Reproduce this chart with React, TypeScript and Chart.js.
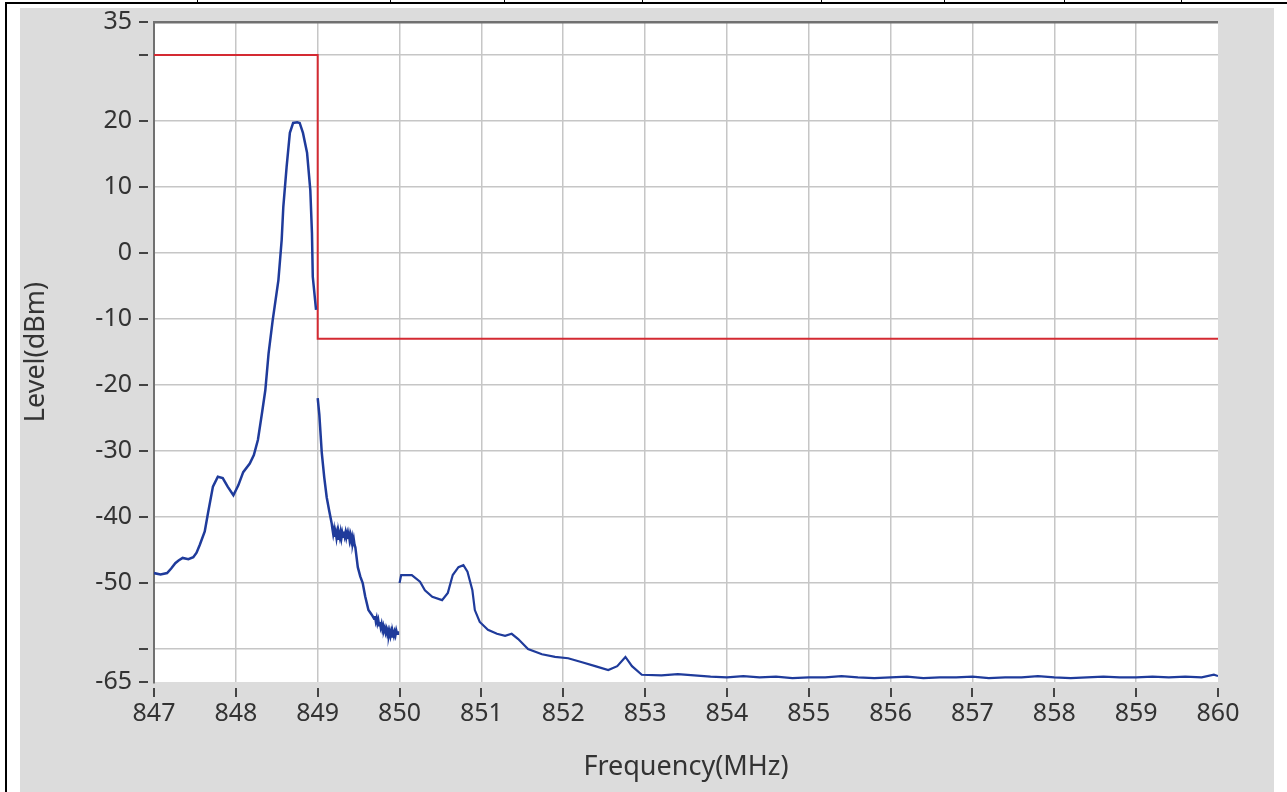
import React, { useEffect, useRef } from "react";
import { Chart, registerables } from "chart.js";

Chart.register(...registerables);

// Axis ticks
const xTickValues = [847, 848, 849, 850, 851, 852, 853, 854, 855, 856, 857, 858, 859, 860];
const yTickValues = [35, 30, 20, 10, 0, -10, -20, -30, -40, -50, -60, -65];
const yTickLabels = ["35", "", "20", "10", "0", "-10", "-20", "-30", "-40", "-50", "", "-65"];

// Emission mask (red)
const maskFreq = [847, 849, 849, 860];
const maskLevel = [30, 30, -13, -13];

// Measured spectrum, segment 1 (847 - 849 MHz)
const seg1Freq = [
  847.0, 847.08, 847.16, 847.21, 847.26, 847.3, 847.35, 847.42, 847.48, 847.52, 847.56, 847.62, 847.66,
  847.72, 847.78, 847.84, 847.9, 847.97, 848.03, 848.09, 848.17, 848.22, 848.27, 848.32, 848.36,
  848.4, 848.45, 848.52, 848.56, 848.58, 848.62, 848.66, 848.7, 848.75, 848.78, 848.82, 848.87,
  848.91, 848.93, 848.94, 848.98,
];
const seg1Level = [
  -48.5, -48.7, -48.5, -47.8, -47.0, -46.6, -46.2, -46.4, -46.1, -45.4, -44.2, -42.2, -39.4,
  -35.4, -33.9, -34.1, -35.4, -36.7, -35.2, -33.2, -31.9, -30.6, -28.3, -24.2, -20.8,
  -15.2, -10.2, -4.1, 2.0, 7.0, 13.0, 18.2, 19.7, 19.8, 19.7, 18.2, 15.2,
  9.5, 3.0, -3.6, -8.6,
];

// Segment 2 (849 - 850 MHz)
const seg2Freq = [
  849.0, 849.02, 849.05, 849.08, 849.11, 849.14, 849.17, 849.18, 849.19, 849.2, 849.21, 849.22,
  849.23, 849.24, 849.25, 849.26, 849.27, 849.28, 849.29, 849.3, 849.31, 849.32, 849.33, 849.34,
  849.35, 849.36, 849.37, 849.38, 849.39, 849.4, 849.41, 849.42, 849.43, 849.44, 849.45, 849.46,
  849.49, 849.52, 849.55, 849.58, 849.62, 849.66, 849.69, 849.7, 849.71, 849.72, 849.73, 849.74,
  849.75, 849.76, 849.77, 849.78, 849.79, 849.8, 849.81, 849.82, 849.83, 849.84, 849.85, 849.86,
  849.87, 849.88, 849.89, 849.9, 849.91, 849.92, 849.93, 849.94, 849.95, 849.96, 849.97, 849.98,
];
const seg2Level = [
  -22.0, -24.5, -30.3, -34.0, -37.0, -39.0, -40.9, -41.8, -42.6, -41.9, -43.0, -42.3,
  -43.2, -42.4, -43.3, -42.5, -43.1, -42.3, -43.2, -42.4, -43.0, -42.2, -42.9, -42.3,
  -43.1, -42.5, -43.3, -42.6, -43.5, -42.8, -43.6, -43.0, -43.9, -43.3, -44.2, -44.6,
  -47.6, -49.0, -50.0, -52.0, -54.1, -54.8, -55.4, -55.0, -55.8, -55.3, -56.1, -55.6,
  -56.4, -55.9, -56.7, -56.2, -57.0, -56.5, -57.2, -56.8, -57.5, -57.0, -57.7, -57.2,
  -57.9, -57.3, -58.0, -57.4, -58.1, -57.5, -58.0, -57.4, -57.9, -57.2, -57.7, -57.3,
];

// Segment 3 (850 - 860 MHz)
const seg3Freq = [
  850.0, 850.02, 850.15, 850.25, 850.31, 850.4, 850.52, 850.59, 850.65, 850.72, 850.78, 850.83,
  850.89, 850.92, 850.98, 851.08, 851.19, 851.29, 851.37, 851.45, 851.57, 851.74, 851.9, 852.06,
  852.23, 852.39, 852.55, 852.66, 852.76, 852.84, 852.96, 853.2, 853.4, 853.6, 853.8, 854.0,
  854.2, 854.4, 854.6, 854.8, 855.0, 855.2, 855.4, 855.6, 855.8, 856.0, 856.2, 856.4, 856.6,
  856.8, 857.0, 857.2, 857.4, 857.6, 857.8, 858.0, 858.2, 858.4, 858.6, 858.8, 859.0, 859.2,
  859.4, 859.6, 859.8, 859.95, 860.0,
];
const seg3Level = [
  -50.0, -48.8, -48.8, -49.8, -51.1, -52.1, -52.6, -51.5, -48.8, -47.6, -47.3, -48.3,
  -51.1, -54.1, -55.9, -57.1, -57.7, -58.0, -57.7, -58.5, -60.0, -60.8, -61.2, -61.4,
  -62.0, -62.6, -63.2, -62.6, -61.2, -62.6, -63.9, -64.0, -63.8, -64.0, -64.2, -64.3,
  -64.1, -64.3, -64.2, -64.4, -64.3, -64.3, -64.1, -64.3, -64.4, -64.3, -64.2, -64.4, -64.3,
  -64.3, -64.2, -64.4, -64.3, -64.3, -64.1, -64.3, -64.4, -64.3, -64.2, -64.3, -64.3, -64.2,
  -64.3, -64.2, -64.3, -63.9, -64.1,
];

const topDividers = [197, 390, 504, 642, 821, 944, 1064, 1181];

const toPoints = (xs: number[], ys: number[]) => xs.map((x, i) => ({ x, y: ys[i] }));

const BLUE = "#1f3b9b";
const RED = "#d42a32";
const TEXT = "#333333";
const FONT = "'Noto Sans', 'Open Sans', sans-serif";

export default function App() {
  const ref = useRef<HTMLCanvasElement | null>(null);

  useEffect(() => {
    if (!ref.current) return;

    const decor = {
      id: "decor",
      beforeDraw(chart: any) {
        const { ctx, chartArea: a, width, height } = chart;
        ctx.save();
        ctx.fillStyle = "#dcdcdc";
        ctx.fillRect(0, 0, width, height);
        ctx.fillStyle = "#ffffff";
        ctx.fillRect(a.left, a.top, a.right - a.left, a.bottom - a.top);
        ctx.restore();
      },
      afterDraw(chart: any) {
        const { ctx, chartArea: a, scales } = chart;
        ctx.save();
        ctx.strokeStyle = "#444444";
        ctx.lineWidth = 2;
        ctx.beginPath();
        yTickValues.forEach((v) => {
          const y = Math.round(scales.y.getPixelForValue(v));
          ctx.moveTo(a.left - 15, y);
          ctx.lineTo(a.left - 6, y);
        });
        xTickValues.forEach((v) => {
          const x = Math.round(scales.x.getPixelForValue(v));
          ctx.moveTo(x, a.bottom + 6);
          ctx.lineTo(x, a.bottom + 15);
        });
        ctx.stroke();
        ctx.restore();
      },
    };

    const lineDs = (label: string, xs: number[], ys: number[], color: string, w: number) => ({
      label,
      data: toPoints(xs, ys),
      borderColor: color,
      backgroundColor: color,
      borderWidth: w,
      pointRadius: 0,
      tension: 0,
      fill: false,
    });

    const chart = new Chart(ref.current, {
      type: "line",
      data: {
        datasets: [
          lineDs("Spectrum 1", seg1Freq, seg1Level, BLUE, 2.5),
          lineDs("Spectrum 2", seg2Freq, seg2Level, BLUE, 2.5),
          lineDs("Spectrum 3", seg3Freq, seg3Level, BLUE, 2.2),
          lineDs("Mask", maskFreq, maskLevel, RED, 2),
        ],
      },
      options: {
        animation: false,
        responsive: false,
        devicePixelRatio: 1,
        layout: { padding: { left: 0, top: 14, right: 56, bottom: 0 } },
        plugins: { legend: { display: false }, tooltip: { enabled: false } },
        scales: {
          x: {
            type: "linear",
            min: 847,
            max: 860,
            afterBuildTicks: (s: any) => {
              s.ticks = xTickValues.map((v) => ({ value: v }));
            },
            afterFit: (s: any) => {
              s.height = 110;
              s.paddingLeft = 0;
              s.paddingRight = 0;
              s.paddingTop = 0;
              s.paddingBottom = 0;
            },
            ticks: {
              color: TEXT,
              font: { family: FONT, size: 25 },
              padding: 17,
              maxRotation: 0,
              autoSkip: false,
              callback: (v: any) => String(v),
            },
            grid: {
              drawTicks: false,
              color: (c: any) =>
                c.tick && (c.tick.value === 847 || c.tick.value === 860) ? "rgba(0,0,0,0)" : "#c6c6c6",
              lineWidth: 1.5,
            },
            border: { display: false },
            title: {
              display: true,
              text: "Frequency(MHz)",
              color: TEXT,
              font: { family: FONT, size: 27 },
              padding: { top: 0, bottom: 8 },
            },
          },
          y: {
            type: "linear",
            min: -65,
            max: 35,
            afterBuildTicks: (s: any) => {
              s.ticks = yTickValues.map((v) => ({ value: v }));
            },
            afterFit: (s: any) => {
              s.width = 134;
              s.paddingLeft = 0;
              s.paddingRight = 0;
              s.paddingTop = 0;
              s.paddingBottom = 0;
            },
            ticks: {
              color: TEXT,
              font: { family: FONT, size: 25 },
              padding: 22,
              autoSkip: false,
              callback: (v: any) => {
                const i = yTickValues.indexOf(Number(v));
                return i >= 0 ? yTickLabels[i] : "";
              },
            },
            grid: {
              drawTicks: false,
              color: (c: any) => {
                const v = c.tick ? c.tick.value : null;
                if (v === 35) return "#707070";
                if (v === -65) return "rgba(0,0,0,0)";
                return "#c6c6c6";
              },
              lineWidth: (c: any) => (c.tick && c.tick.value === 35 ? 2.5 : 1.5),
            },
            border: { display: true, color: "#707070", width: 2 },
            title: {
              display: true,
              text: "Level(dBm)",
              color: TEXT,
              font: { family: FONT, size: 27 },
              padding: { top: 0, bottom: 0 },
            },
          },
        },
      },
      plugins: [decor],
    } as any);

    return () => chart.destroy();
  }, []);

  return (
    <div
      style={{
        position: "absolute",
        left: 0,
        top: 0,
        width: 1287,
        height: 792,
        background: "#ffffff",
        overflow: "hidden",
      }}
    >
      <div style={{ position: "absolute", left: 5, top: 2, width: 1282, height: 2, background: "#000" }} />
      <div style={{ position: "absolute", left: 5, top: 2, width: 2, height: 790, background: "#000" }} />
      {topDividers.map((x) => (
        <div key={x} style={{ position: "absolute", left: x, top: 0, width: 1, height: 3, background: "#000" }} />
      ))}
      <canvas
        ref={ref}
        width={1254}
        height={784}
        style={{ position: "absolute", left: 20, top: 8, width: 1254, height: 784, display: "block" }}
      />
    </div>
  );
}
